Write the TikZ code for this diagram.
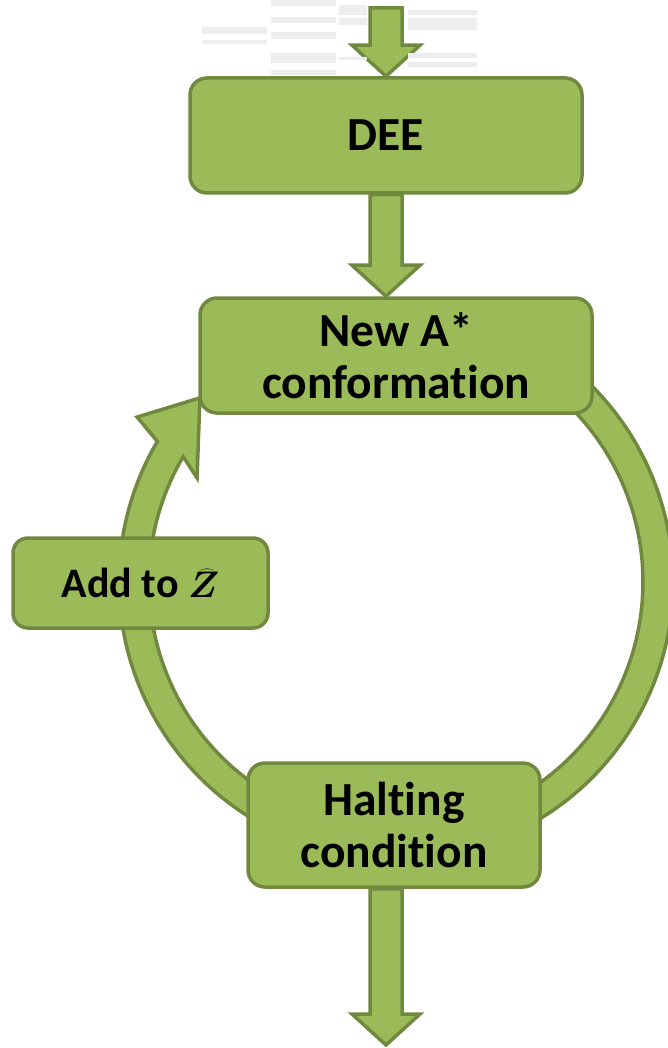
\RequirePackage{fix-cm}
\documentclass[tikz,border=0pt]{standalone}
\usepackage{fontspec}
\setmainfont{Carlito}[Ligatures={NoCommon}]
\usetikzlibrary{calc}
\definecolor{leaf}{HTML}{9BBB59}
\definecolor{leafdark}{HTML}{71893F}
\pgfdeclarelayer{back}
\pgfsetlayers{back,main}
\tikzset{
  stage/.style={draw=leafdark, fill=leaf, line width=3.5pt, rounded corners=17pt,
    align=center, inner sep=0pt, text=black,
    font=\bfseries\fontsize{47.5}{52}\selectfont},
  blockarrow/.style={draw=leafdark, fill=leaf, line width=3.5pt, line join=miter},
  ghost/.style={fill=black!7, draw=none},
}
% downward block arrow from the first point to the second (tip)
\newcommand\flowdown[2]{%
  \path[blockarrow] let \p1=#1, \p2=#2 in
    (\x1-16pt,\y1) -- (\x1-16pt,\y2+31pt) -- (\x1-34pt,\y2+31pt) -- (\x1,\y2)
    -- (\x1+34pt,\y2+31pt) -- (\x1+16pt,\y2+31pt) -- (\x1+16pt,\y1) -- cycle;}
\begin{document}
\begin{tikzpicture}[x=1pt,y=-1pt]
\useasboundingbox (0,0) rectangle (668,1048);

% faint bars behind the entry arrow
\fill[ghost] (202,27) rectangle (267,34);
\fill[ghost] (202,40) rectangle (267,44);
\fill[ghost] (271,0) rectangle (336,6);
\fill[ghost] (271,17) rectangle (336,23);
\fill[ghost] (271,32) rectangle (336,39);
\fill[ghost] (271,53) rectangle (336,63);
\fill[ghost] (271,70) rectangle (336,75);
\fill[ghost] (339,5) rectangle (367,15);
\fill[ghost] (339,18) rectangle (367,25);
\fill[ghost] (339,57) rectangle (367,60);
\fill[ghost] (408,10) rectangle (477,15);
\fill[ghost] (408,18) rectangle (477,30);
\fill[ghost] (408,53) rectangle (477,58);
\fill[ghost] (408,62) rectangle (477,67);

% stages
\node[stage, minimum width=392pt, minimum height=115pt] (dee) at (386,135.5) {DEE};
\node[stage, minimum width=392pt, minimum height=115pt] (newa) at (396,355.5) {New A*\\conformation};
\node[stage, minimum width=255pt, minimum height=90pt, rounded corners=15pt,
      font=\bfseries\fontsize{42}{48}\selectfont] (add) at (140.5,583)
      {Add to {\fontsize{37}{40}\selectfont\boldmath$\widehat{Z}$}};
\node[stage, minimum width=292pt, minimum height=124pt] (halt) at (394,825) {Halting\\condition};

\coordinate (topin) at (386,8);
\coordinate (out) at (386,1045);
\coordinate (c) at (396,582);

\begin{pgfonlayer}{back}
  % circular loop arrow
  \path[blockarrow] ($(c)+(-60:277)$) arc[start angle=-60, end angle=210.5, radius=277]
    -- ($(c)+(212.5:307)$) -- ($(c)+(223.2:269)$) -- ($(c)+(207.6:224.5)$)
    -- ($(c)+(210.5:247)$) arc[start angle=210.5, end angle=-60, radius=247] -- cycle;
  % straight flow arrows
  \flowdown{(topin)}{(dee.north)}
  \flowdown{(dee.south)}{(dee.south |- newa.north)}
  \flowdown{(dee.south |- halt.south)}{(out)}
\end{pgfonlayer}
\end{tikzpicture}
\end{document}
